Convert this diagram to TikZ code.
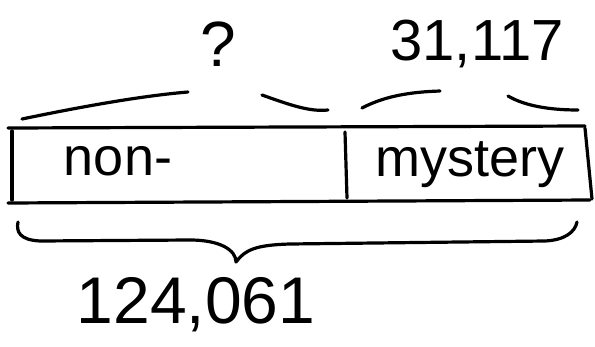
\documentclass[tikz,border=0pt]{standalone}
\usepackage{fontspec}
\setmainfont{Liberation Sans}
\begin{document}
\begin{tikzpicture}[x=1pt,y=-1pt,line width=3.2pt,line cap=round,line join=round]
\useasboundingbox (0,0) rectangle (595,346);
% the tape
\draw (8,128) -- (585,126);
\draw (8,203) -- (590,200);
\draw (12,131) -- (12,200);
\draw (585,128) -- (592,199);
\draw (345,132) -- (347,198);
\node (non) at (118,161) {\fontsize{54}{54}\selectfont non-};
\node (mys) at (470,165) {\fontsize{54}{54}\selectfont mystery};
% braces on top
\draw (22,119) .. controls (80,107) and (140,96) .. (188,92);
\draw (262,95) .. controls (290,105) and (310,112) .. (328,110);
\draw (362,108) .. controls (385,96) and (410,92) .. (440,91);
\draw (508,96) .. controls (525,106) and (550,110) .. (578,110);
\node (part) at (218,44) {\fontsize{64}{64}\selectfont ?};
\node (known) at (477,44) {\fontsize{58}{58}\selectfont 31,117};
% brace below
\draw (18,222) .. controls (16,232) and (20,240) .. (40,241)
  -- (190,240) .. controls (220,240) and (236,250) .. (236,262)
  .. controls (245,250) and (255,245) .. (290,244)
  -- (545,241) .. controls (565,240) and (575,232) .. (577,222);
\node (total) at (196,305) {\fontsize{66}{66}\selectfont 124,061};
\end{tikzpicture}
\end{document}
